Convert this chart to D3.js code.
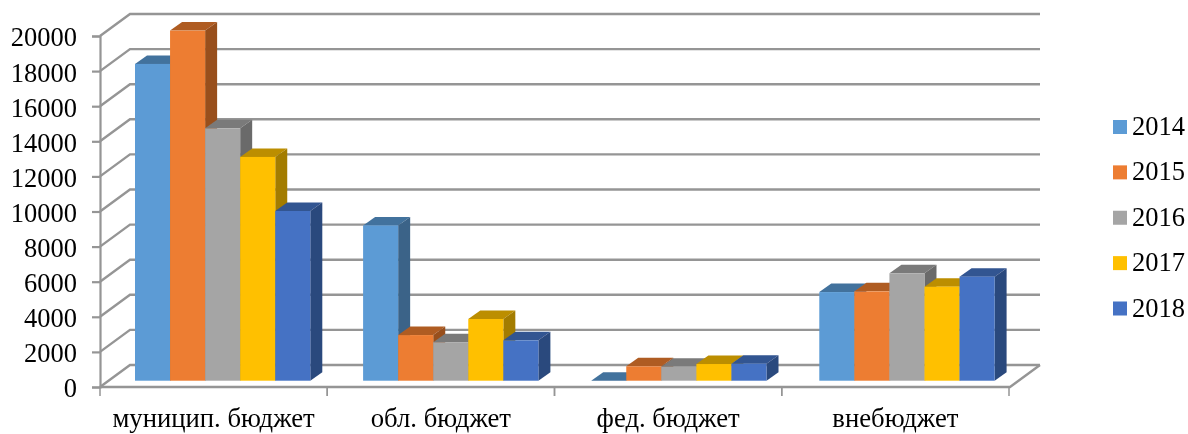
<!DOCTYPE html>
<html>
<head>
<meta charset="utf-8">
<script src="https://cdn.jsdelivr.net/npm/d3@7"></script>
<style>
  body { margin: 0; background: #fff; }
  text { font-family: "Liberation Serif", serif; fill: #000; }
</style>
</head>
<body>
<script>
// values
const categories = ['муницип. бюджет', 'обл. бюджет', 'фед. бюджет', 'внебюджет'];
const years = ['2014', '2015', '2016', '2017', '2018'];
const values2014 = [18050, 8850, 0, 5050];
const values2015 = [19950, 2600, 820, 5090];
const values2016 = [14380, 2190, 800, 6120];
const values2017 = [12750, 3515, 950, 5360];
const values2018 = [9670, 2300, 970, 5930];
const seriesValues = [values2014, values2015, values2016, values2017, values2018];
const yTicks = d3.range(0, 20001, 2000);
const colors = ['#5b9bd5', '#ed7d31', '#a5a5a5', '#ffc000', '#4472c4'];

const width = 1188;
const height = 434;

// 3d look: back wall shift, bar depth, how far bars stand off the front edge
const wall = { dx: 30, dy: -22 };
const depth = { dx: 12, dy: -8.5 };
const barLift = 6.3;
const gridColor = '#959595';

const root = d3.select('body').append('svg')
    .attr('width', width)
    .attr('height', height)
    .style('display', 'block');

// the reference is a slightly soft picture
root.append('defs').append('filter')
    .attr('id', 'soft')
    .append('feGaussianBlur')
    .attr('stdDeviation', 0.45);

const svg = root.append('g').attr('filter', 'url(#soft)');

const yScale = d3.scaleLinear().domain([0, 20000]).range([387, 36]);
const xAxisScale = d3.scaleBand().domain(categories).range([100, 1009]);
const groupScale = d3.scaleBand().domain(categories).range([135, 135 + 228.1 * 4]);
const barScale = d3.scaleBand().domain(years).range([0, 175.3]);

// Back wall and side wall lines
yTicks.forEach(t => {
    const y = yScale(t);
    svg.append('polyline')
        .attr('points', `100,${y} ${100 + wall.dx},${y + wall.dy} ${1010 + wall.dx},${y + wall.dy}`)
        .attr('fill', 'none')
        .attr('stroke', gridColor)
        .attr('stroke-width', 2.4);
});

// Floor edge
svg.append('polyline')
    .attr('points', `100,387 1010,387 ${1010 + wall.dx},${387 + wall.dy}`)
    .attr('fill', 'none')
    .attr('stroke', gridColor)
    .attr('stroke-width', 2.4);

// Y axis
const yAxis = svg.append('g')
    .attr('transform', 'translate(100,0)')
    .call(d3.axisLeft(yScale).tickValues(yTicks).tickFormat(d3.format('d')).tickSize(8).tickPadding(15));
yAxis.selectAll('line, path').attr('stroke', gridColor).attr('stroke-width', 2.2);
yAxis.selectAll('text')
    .attr('font-size', 26.5)
    .attr('font-family', null)
    .attr('y', 1.5);

// X axis labels, ticks sit between the categories
const xAxis = svg.append('g')
    .attr('transform', 'translate(0,387)')
    .call(d3.axisBottom(xAxisScale).tickSize(0).tickPadding(21));
xAxis.select('path').remove();
xAxis.selectAll('text')
    .attr('font-size', 26.7)
    .attr('font-family', null);
categories.forEach(c => {
    [xAxisScale(c), xAxisScale(c) + xAxisScale.bandwidth()].forEach(x => {
        svg.append('line')
            .attr('x1', x).attr('x2', x)
            .attr('y1', 387).attr('y2', 396)
            .attr('stroke', gridColor)
            .attr('stroke-width', 1.5);
    });
});

// Bars, left to right so the next front face hides the previous side
const baseY = yScale(0) - barLift;
const unit = yScale(0) - yScale(1);
categories.forEach((cat, c) => {
    years.forEach((year, s) => {
        const base = d3.color(colors[s]);
        const x = groupScale(cat) + barScale(year);
        const w = barScale.bandwidth();
        const top = baseY - seriesValues[s][c] * unit;
        const g = svg.append('g').attr('class', 'bar');

        g.append('polygon')
            .attr('points', [[x, top], [x + w, top], [x + w + depth.dx, top + depth.dy], [x + depth.dx, top + depth.dy]].join(' '))
            .attr('fill', base.darker(0.85));
        g.append('polygon')
            .attr('points', [[x + w, top], [x + w + depth.dx, top + depth.dy], [x + w + depth.dx, baseY + depth.dy], [x + w, baseY]].join(' '))
            .attr('fill', base.darker(1.25));
        g.append('rect')
            .attr('x', x)
            .attr('y', top)
            .attr('width', w)
            .attr('height', baseY - top)
            .attr('fill', colors[s]);
    });
});

// Legend
const legendScale = d3.scalePoint().domain(years).range([127, 308.5]);
const legend = svg.append('g').attr('id', 'legend');
years.forEach((year, s) => {
    legend.append('rect')
        .attr('x', 1113)
        .attr('y', legendScale(year) - 7)
        .attr('width', 14)
        .attr('height', 14)
        .attr('fill', colors[s]);
    legend.append('text')
        .attr('x', 1132)
        .attr('y', legendScale(year) + 8)
        .attr('font-size', 26.5)
        .text(year);
});
</script>
</body>
</html>
